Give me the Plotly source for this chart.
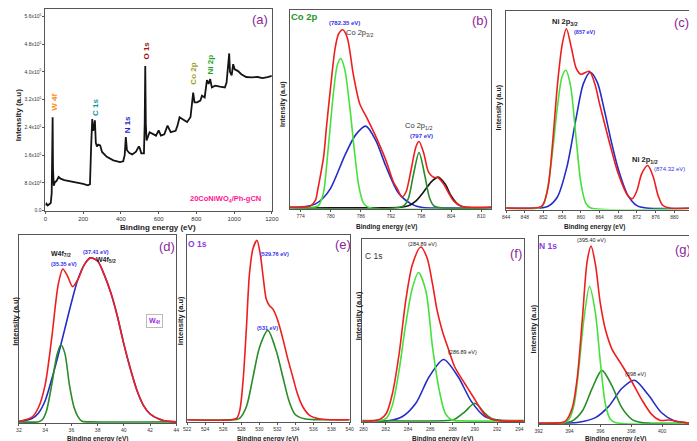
import plotly.graph_objects as go

W, H = 697, 441
FONT = "Liberation Sans Narrow, Arial Narrow, Liberation Sans, Arial"

# ---------------- data ----------------
# (a) survey spectrum (intensity in 1e5 counts)
a_x = [0, 5, 12, 20, 28, 33, 36, 38, 40, 44, 50, 58, 70, 80, 100, 130, 170, 200, 225, 236, 242, 248, 253, 258,
       262, 267, 273, 280, 290, 300, 325, 360, 395, 412, 420, 426, 432, 445, 460, 480, 495, 500, 508, 522, 526,
       529, 532, 536, 552, 570, 586, 600, 612, 630, 647, 664, 690, 700, 711, 725, 751, 769, 777, 783, 790, 804,
       821, 830, 844, 856, 865, 873, 882, 899, 925, 951, 960, 969, 974, 978, 982, 987, 995, 1003, 1021, 1038,
       1064, 1090, 1125, 1151, 1177, 1200]
a_y = [0.15, 0.2, 0.15, 0.18, 0.22, 0.5, 1.5, 2.69, 1.2, 0.72, 0.82, 0.85, 0.97, 0.92, 0.88, 0.85, 0.8, 0.77,
       0.73, 0.76, 1.83, 2.64, 2.3, 2.4, 2.6, 1.95, 1.85, 1.9, 1.88, 1.69, 1.55, 1.45, 1.4, 1.42, 1.6, 2.12,
       1.74, 1.66, 1.62, 1.7, 1.85, 1.8, 1.65, 1.65, 2.5, 4.17, 2.5, 2.02, 2.26, 2.2, 2.16, 2.31, 2.16, 2.2,
       2.45, 2.26, 2.3, 2.45, 2.69, 2.64, 2.55, 2.7, 3.07, 3.4, 3.12, 3.12, 3.17, 3.31, 3.26, 3.76, 3.65, 3.79,
       3.55, 3.6, 3.57, 3.55, 3.69, 4.12, 4.53, 4.0, 3.95, 3.9, 4.22, 4.07, 4.02, 3.93, 3.85, 3.84, 3.85, 3.82,
       3.85, 3.88]
a_yticks = [0, 0.8, 1.6, 2.4, 3.2, 4.0, 4.8, 5.6]
a_yticklabels = ["0.0", "8.0x10<sup>4</sup>", "1.6x10<sup>5</sup>", "2.4x10<sup>5</sup>", "3.2x10<sup>5</sup>",
                 "4.0x10<sup>5</sup>", "4.8x10<sup>5</sup>", "5.6x10<sup>5</sup>"]

# (b) Co 2p (normalised intensity)
b_red_x = [771.8, 774, 776, 777, 777.3, 778, 778.6, 779.2, 779.9, 780.9, 781.6, 782.4, 783.3, 784.5, 785.8,
           787.1, 789, 791, 792.5, 793.2, 794.2, 795, 796, 797, 797.6, 798.5, 799.5, 800.5, 801.4, 802.5, 803.5,
           804.5, 806, 808, 812]
b_red_y = [0.003, 0.003, 0.01, 0.04, 0.075, 0.17, 0.26, 0.42, 0.59, 0.81, 0.88, 0.90, 0.86, 0.675, 0.525, 0.46,
           0.36, 0.24, 0.13, 0.1, 0.055, 0.08, 0.19, 0.31, 0.335, 0.28, 0.18, 0.155, 0.152, 0.12, 0.075, 0.035,
           0.008, 0.003, 0.003]
b_g1_x = [771.8, 776, 777.5, 778.5, 779.5, 780.5, 781.3, 782, 782.8, 783.8, 784.8, 785.6, 786.5, 787.5, 812]
b_g1_y = [0.002, 0.002, 0.01, 0.07, 0.3, 0.57, 0.72, 0.755, 0.7, 0.51, 0.27, 0.11, 0.025, 0.003, 0.002]
b_blue_x = [771.8, 775, 777, 778.5, 780, 783, 785, 787, 789, 791, 793.5, 796, 798, 812]
b_blue_y = [0.002, 0.006, 0.02, 0.05, 0.1, 0.275, 0.37, 0.413, 0.34, 0.21, 0.075, 0.02, 0.003, 0.002]
b_g2_x = [771.8, 794.5, 795.5, 796.5, 797.6, 798.7, 799.7, 800.7, 812]
b_g2_y = [0.002, 0.01, 0.05, 0.17, 0.28, 0.17, 0.05, 0.008, 0.002]
b_blk_x = [771.8, 794, 795.5, 797, 798.5, 800, 801.4, 802.8, 804, 805.5, 807, 812]
b_blk_y = [0.002, 0.003, 0.01, 0.035, 0.08, 0.13, 0.155, 0.12, 0.06, 0.015, 0.002, 0.002]

# (c) Ni 2p
c_red_x = [844, 850, 851.5, 852, 853, 854, 855, 856, 856.9, 858, 859, 860, 861.8, 863, 864, 866, 868, 870, 871,
           872, 873, 874.3, 875.5, 876.5, 877.5, 879, 884]
c_red_y = [0.003, 0.003, 0.01, 0.025, 0.11, 0.345, 0.63, 0.83, 0.91, 0.81, 0.71, 0.68, 0.695, 0.63, 0.53, 0.345,
           0.176, 0.067, 0.05, 0.092, 0.176, 0.218, 0.159, 0.067, 0.017, 0.003, 0.003]
c_green_x = [844, 851, 852, 853, 854, 855, 856, 856.8, 857.8, 859, 860, 861, 862, 884]
c_green_y = [0.002, 0.003, 0.02, 0.12, 0.3, 0.52, 0.67, 0.7, 0.62, 0.35, 0.13, 0.03, 0.004, 0.002]
c_blue_x = [844, 851, 853, 855, 857, 859, 860.5, 862, 863.5, 865, 866.5, 868, 870, 872, 874, 884]
c_blue_y = [0.002, 0.003, 0.012, 0.06, 0.21, 0.46, 0.63, 0.69, 0.64, 0.5, 0.34, 0.2, 0.07, 0.015, 0.003, 0.002]

# (d) W 4f
d_red_x = [32, 33, 33.5, 34, 34.5, 35, 35.35, 35.7, 36.1, 36.5, 37, 37.45, 38, 38.5, 39, 39.5, 40, 40.5, 41, 41.5,
           42, 43, 44]
d_red_y = [0.004, 0.027, 0.08, 0.2, 0.45, 0.738, 0.82, 0.783, 0.726, 0.765, 0.845, 0.88, 0.863, 0.79, 0.694, 0.569,
           0.418, 0.285, 0.17, 0.089, 0.044, 0.009, 0.002]
d_blue_x = [32, 33, 33.5, 34, 34.5, 35, 35.5, 36, 36.5, 37, 37.45, 38, 38.5, 39, 39.5, 40, 40.5, 41, 41.5, 42, 43, 44]
d_blue_y = [0.003, 0.02, 0.05, 0.115, 0.23, 0.36, 0.5, 0.64, 0.765, 0.845, 0.88, 0.863, 0.79, 0.694, 0.569, 0.418,
            0.285, 0.17, 0.089, 0.044, 0.009, 0.002]
d_green_x = [32, 33.5, 33.8, 34.1, 34.5, 34.9, 35.2, 35.5, 35.85, 36.2, 36.5, 36.8, 37.5, 44]
d_green_y = [0.002, 0.003, 0.015, 0.06, 0.2, 0.36, 0.415, 0.37, 0.2, 0.08, 0.03, 0.005, 0.002, 0.002]

# (e) O 1s
e_red_x = [522, 527, 527.5, 527.84, 528.2, 528.57, 528.9, 529.3, 529.74, 530.1, 530.47, 530.76, 531.1, 531.5,
           532.04, 532.6, 533.1, 533.7, 534.2, 534.8, 535.5, 536.6, 538, 540]
e_red_y = [0.0, 0.0, 0.009, 0.054, 0.216, 0.503, 0.79, 0.93, 0.973, 0.898, 0.754, 0.655, 0.62, 0.6, 0.539, 0.44,
           0.34, 0.233, 0.144, 0.072, 0.027, 0.005, 0.0, 0.0]
e_green_x = [522, 527.5, 527.84, 528.57, 529.3, 530.03, 530.94, 531.85, 532.6, 533.3, 534, 535.1, 536, 540]
e_green_y = [0.0, 0.002, 0.009, 0.072, 0.233, 0.395, 0.485, 0.377, 0.233, 0.1, 0.027, 0.004, 0.001, 0.0]

# (f) C 1s
f_red_x = [279.9, 280.6, 281.5, 282.06, 282.6, 283.2, 283.8, 284.4, 285.15, 285.7, 286.2, 286.6, 287.06, 287.65,
           288.2, 289.1, 289.85, 290.3, 290.9, 291.5, 292.35, 294.4]
f_red_y = [0.0, 0.0, 0.009, 0.042, 0.151, 0.37, 0.664, 0.863, 0.958, 0.9, 0.755, 0.613, 0.5, 0.392, 0.297, 0.206,
           0.133, 0.088, 0.033, 0.009, 0.0, 0.0]
f_lg_x = [279.9, 281.5, 282.06, 282.6, 283.2, 283.8, 284.4, 284.94, 285.6, 286.2, 286.8, 287.35, 287.94, 289, 294.4]
f_lg_y = [0.0, 0.002, 0.015, 0.088, 0.28, 0.535, 0.735, 0.818, 0.717, 0.407, 0.17, 0.042, 0.005, 0.0, 0.0]
f_blue_x = [279.9, 282.35, 283.5, 284.7, 285.9, 287.2, 288.5, 289.7, 290.9, 292.06, 294.4]
f_blue_y = [0.0, 0.002, 0.024, 0.097, 0.243, 0.338, 0.243, 0.106, 0.024, 0.004, 0.0]
f_dg_x = [279.9, 287.5, 288.2, 289.1, 290.0, 290.9, 291.6, 292.5, 294.4]
f_dg_y = [0.002, 0.002, 0.009, 0.05, 0.097, 0.042, 0.009, 0.002, 0.002]

# (g) N 1s
g_red_x = [392, 393.5, 393.75, 394.18, 394.5, 394.83, 395.15, 395.4, 395.68, 396, 396.33, 396.75, 397.4, 398.04,
           398.68, 399.32, 399.86, 400.4, 400.7, 401, 401.5, 402]
g_red_y = [0.0, 0.003, 0.012, 0.082, 0.24, 0.554, 0.869, 0.948, 0.85, 0.64, 0.5, 0.397, 0.31, 0.222, 0.126, 0.047,
           0.016, 0.017, 0.015, 0.009, 0.003, 0.0]
g_lg_x = [392, 393.6, 393.97, 394.3, 394.6, 394.93, 395.3, 395.68, 396, 396.33, 396.65, 397, 402]
g_lg_y = [0.0, 0.002, 0.021, 0.1, 0.29, 0.554, 0.733, 0.59, 0.327, 0.1, 0.021, 0.002, 0.0]
g_dg_x = [392, 393.6, 394.18, 394.83, 395.47, 396.1, 396.75, 397.4, 398.04, 398.68, 399.5, 402]
g_dg_y = [0.0, 0.002, 0.012, 0.065, 0.187, 0.283, 0.2, 0.082, 0.021, 0.003, 0.0, 0.0]
g_blue_x = [392, 393.8, 394.6, 395.68, 396.54, 397.4, 398.2, 399.1, 399.96, 400.8, 401.7, 402]
g_blue_y = [0.0, 0.001, 0.005, 0.03, 0.09, 0.187, 0.23, 0.152, 0.056, 0.012, 0.002, 0.001]

# ---------------- styling ----------------
RED = "rgb(238,30,30)"
LGREEN = "rgb(70,225,60)"
DGREEN = "rgb(40,140,40)"
BLUE = "rgb(35,45,200)"
BLACK = "rgb(20,20,20)"
PURPLE = "rgb(140,40,150)"
LBLUE = "rgb(50,50,235)"

def px(x):
    return x / W

def py(y):
    return 1 - y / H

panels = {
    "a": dict(box=(34, 264, 1, 204), xr=[0, 1200], yr=[0, 5.81], xt=list(range(0, 1201, 200))),
    "b": dict(box=(282, 487, 2, 202), xr=[771.8, 812], yr=[-0.004, 1.0], xt=list(range(774, 811, 6))),
    "c": dict(box=(502, 692, 3, 203), xr=[844, 884], yr=[-0.005, 1.0], xt=list(range(844, 885, 4))),
    "d": dict(box=(7, 167, 229, 418), xr=[32, 44], yr=[-0.005, 1.0], xt=list(range(32, 45, 2))),
    "e": dict(box=(178, 343, 229, 417), xr=[522, 540], yr=[-0.013, 1.0], xt=list(range(522, 541, 2))),
    "f": dict(box=(356, 520, 233, 417), xr=[279.9, 294.4], yr=[-0.007, 1.0], xt=list(range(280, 295, 2))),
    "g": dict(box=(535, 692, 230, 419), xr=[392, 402], yr=[-0.005, 1.0], xt=list(range(392, 403, 2))),
}
order = ["a", "b", "c", "d", "e", "f", "g"]

fig = go.Figure()
layout = dict(width=W, height=H, margin=dict(l=0, r=0, t=0, b=0), paper_bgcolor="white",
              plot_bgcolor="white", showlegend=False, font=dict(family=FONT, color="#222"))

for i, k in enumerate(order):
    p = panels[k]
    l, r, t, b = p["box"]
    n = "" if i == 0 else str(i + 1)
    small = k != "a"
    layout["xaxis" + n] = dict(domain=[px(l), px(r)], range=p["xr"], anchor="y" + n, showgrid=False,
                               zeroline=False, showline=True, mirror=True, linecolor="#555", linewidth=1,
                               ticks="outside", ticklen=2, tickcolor="#555", tickvals=p["xt"],
                               tickfont=dict(size=5 if small else 6, family=FONT, color="#333"))
    ya = dict(domain=[py(b), py(t)], range=p["yr"], anchor="x" + n, showgrid=False, zeroline=False,
              showline=True, mirror=True, linecolor="#555", linewidth=1, showticklabels=False, ticks="")
    if k == "a":
        ya.update(showticklabels=True, tickvals=a_yticks, ticktext=a_yticklabels, ticks="outside", ticklen=2,
                  tickcolor="#555", tickfont=dict(size=5, family=FONT, color="#333"))
    layout["yaxis" + n] = ya

def add(k, xs, ys, color, width=1.6, shape="spline"):
    i = order.index(k)
    n = "" if i == 0 else str(i + 1)
    fig.add_trace(go.Scatter(x=xs, y=ys, mode="lines", line=dict(color=color, width=width, shape=shape,
                                                                  smoothing=0.8 if shape == "spline" else None),
                             xaxis="x" + n, yaxis="y" + n, hoverinfo="skip"))

add("a", a_x, a_y, BLACK, 1.8, "linear")

add("b", b_blue_x, b_blue_y, BLUE)
add("b", b_blk_x, b_blk_y, BLACK)
add("b", b_g1_x, b_g1_y, LGREEN)
add("b", b_g2_x, b_g2_y, DGREEN)
add("b", b_red_x, b_red_y, RED)

add("c", c_blue_x, c_blue_y, BLUE)
add("c", c_green_x, c_green_y, LGREEN)
add("c", c_red_x, c_red_y, RED)

add("d", d_blue_x, d_blue_y, BLUE)
add("d", d_green_x, d_green_y, DGREEN)
add("d", d_red_x, d_red_y, RED)

add("e", e_green_x, e_green_y, DGREEN)
add("e", e_red_x, e_red_y, RED)

add("f", f_blue_x, f_blue_y, BLUE)
add("f", f_dg_x, f_dg_y, DGREEN)
add("f", f_lg_x, f_lg_y, LGREEN)
add("f", f_red_x, f_red_y, RED)

add("g", g_blue_x, g_blue_y, BLUE)
add("g", g_dg_x, g_dg_y, DGREEN)
add("g", g_lg_x, g_lg_y, LGREEN)
add("g", g_red_x, g_red_y, RED)

ann = []

def T(x, y, text, size=9, color="#222", bold=False, angle=0, xanchor="center", **kw):
    if bold:
        text = "<b>" + text + "</b>"
    d = dict(x=px(x), y=py(y), xref="paper", yref="paper", text=text, showarrow=False, textangle=angle,
             xanchor=xanchor, yanchor="middle", font=dict(size=size, color=color, family=FONT))
    d.update(kw)
    ann.append(d)

# axis titles
for (x, y, s) in [(148, 221, 8), (380, 220, 6.5), (592, 221, 6.5), (87, 434, 6.5), (260, 434, 6.5),
                  (437, 434, 6.5), (613, 434, 6.5)]:
    T(x, y, "Binding energy (eV)", s, "#222", True)
for (x, y, s) in [(6, 108, 8), (276, 97, 7), (495, 100, 7), (4, 315, 7.5), (172, 315, 7.5), (352, 310, 7.5),
                  (530, 323, 7.5)]:
    T(x, y, "Intensity (a.u)", s, "#222", True, -90)

# panel labels
for (x, y, t) in [(252, 12, "(a)"), (475, 13, "(b)"), (680, 15, "(c)"), (157, 240, "(d)"), (336, 238, "(e)"),
                  (512, 247, "(f)"), (682, 243, "(g)")]:
    T(x, y, t, 13, PURPLE)

# panel (a) peak labels
T(43, 95, "W 4f", 8, "rgb(255,140,20)", True, -90)
T(85, 100, "C 1s", 8, "rgb(20,150,160)", True, -90)
T(117, 118, "N 1s", 8, "rgb(30,30,200)", True, -90)
T(137, 43, "O 1s", 8, "rgb(160,20,20)", True, -90)
T(184, 66, "Co 2p", 8, "rgb(160,160,30)", True, -90)
T(202, 57, "Ni 2p", 8, "rgb(30,160,30)", True, -90)
T(217, 192, "20CoNiWO<sub>4</sub>/Ph-gCN", 7.5, "rgb(255,20,150)", True)

# panel (b)
T(297, 9, "Co 2p", 9.5, "rgb(30,150,30)", True)
T(338, 15, "(782.35 eV)", 6, LBLUE, True)
T(353, 25, "Co 2p<sub>3/2</sub>", 7.5, "#333")
T(413, 119, "Co 2p<sub>1/2</sub>", 7.5, "#333")
T(416, 129, "(797 eV)", 6, LBLUE, True)

# panel (c)
T(562, 14, "Ni 2p<sub>3/2</sub>", 7.5, "#222", True)
T(582, 24, "(857 eV)", 5.5, LBLUE, True)
T(643, 153, "Ni 2p<sub>1/2</sub>", 7.5, "#222", True)
T(668, 162, "(874.32 eV)", 6, LBLUE)

# panel (d)
T(50, 248, "W4f<sub>7/2</sub>", 7, "#222", True)
T(53, 258, "(35.35 eV)", 5.5, LBLUE, True)
T(85, 246, "(37.41 eV)", 5.5, LBLUE, True)
T(96, 254, "W4f<sub>5/2</sub>", 7, "#222", True)
T(145, 315, "W<sub>4f</sub>", 7, "rgb(150,40,230)", True, bordercolor="#bbb", borderwidth=1, borderpad=2,
  bgcolor="white")

# panel (e)
T(188, 238, "O 1s", 8.5, "rgb(140,60,230)", True)
T(267, 248, "(529.76 eV)", 5.5, LBLUE, True)
T(260, 322, "(531 eV)", 5.5, LBLUE, True)

# panel (f)
T(367, 250, "C 1s", 8.5, "#333")
T(417, 238, "(284.89 eV)", 5.5, "#222")
T(458, 346, "(286.89 eV)", 5.5, "#222")

# panel (g)
T(545, 240, "N 1s", 8.5, "rgb(140,60,230)", True)
T(589, 234, "(395.40 eV)", 5.5, "#222")
T(633, 369, "(398 eV)", 5.5, "#222")

layout["annotations"] = ann
fig.update_layout(**layout)
fig.write_html("out.html")
